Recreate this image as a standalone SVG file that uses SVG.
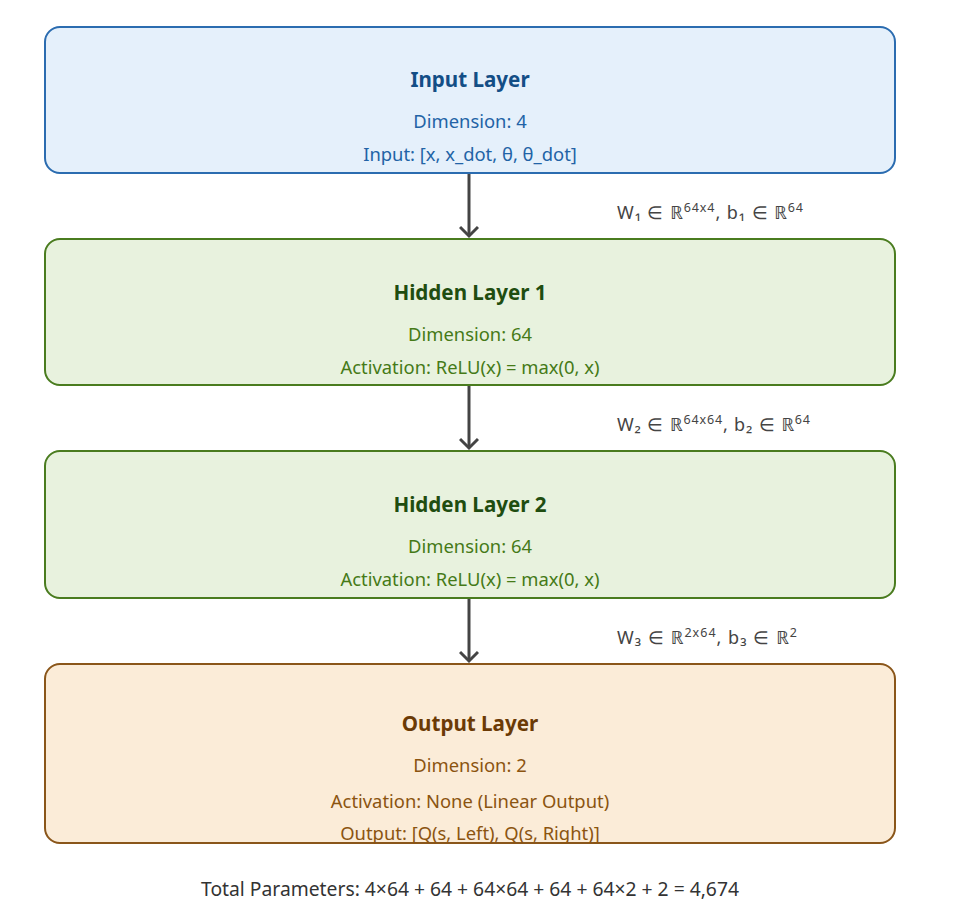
<svg xmlns="http://www.w3.org/2000/svg" width="974" height="908" viewBox="0 0 974 908">
<defs>
<style>
text{font-family:"Noto Sans","Open Sans","Liberation Sans",sans-serif;text-anchor:middle}
.t{font-size:20.6px;font-weight:bold}
.s{font-size:18.4px}
.box{stroke-width:2}
.in rect{fill:#e5f0fb;stroke:#2b6cb0}
.in .t{fill:#134e86}
.in .s{fill:#2263a6}
.hd rect{fill:#e8f2de;stroke:#4a7c1f}
.hd .t{fill:#1f4d10}
.hd .s{fill:#457a17}
.out rect{fill:#fbecd8;stroke:#8a561a}
.out .t{fill:#6b3a05}
.out .s{fill:#8b5410}
.lbl{font-size:18px;fill:#444;text-anchor:start}
.sup{font-size:12.5px}
.conn line{stroke:#444;stroke-width:3}
.foot{font-size:19.3px;fill:#333}
</style>
<marker id="ah" viewBox="0 0 20 20" refX="17" refY="10" markerWidth="20" markerHeight="20" markerUnits="userSpaceOnUse" orient="auto">
<path d="M8,1 L17,10 L8,19" fill="none" stroke="#444" stroke-width="3"/>
</marker>
</defs>
<rect width="974" height="908" fill="#ffffff"/>
<g id="input-layer" class="in">
<rect class="box" x="45" y="27" width="850" height="146" rx="15"/>
<text class="t" x="470" y="87">Input Layer</text>
<text class="s" x="470" y="128">Dimension: 4</text>
<text class="s" x="470" y="161">Input: [x, x_dot, θ, θ_dot]</text>
</g>
<g id="hidden-layer-1" class="hd">
<rect class="box" x="45" y="239" width="850" height="146" rx="15"/>
<text class="t" x="470" y="300">Hidden Layer 1</text>
<text class="s" x="470" y="341">Dimension: 64</text>
<text class="s" x="470" y="374">Activation: ReLU(x) = max(0, x)</text>
</g>
<g id="hidden-layer-2" class="hd">
<rect class="box" x="45" y="451" width="850" height="147" rx="15"/>
<text class="t" x="470" y="512">Hidden Layer 2</text>
<text class="s" x="470" y="553">Dimension: 64</text>
<text class="s" x="470" y="586">Activation: ReLU(x) = max(0, x)</text>
</g>
<g id="output-layer" class="out">
<rect class="box" x="45" y="664" width="850" height="179" rx="15"/>
<text class="t" x="470" y="731">Output Layer</text>
<text class="s" x="470" y="772">Dimension: 2</text>
<text class="s" x="470" y="808">Activation: None (Linear Output)</text>
<text class="s" x="470" y="840">Output: [Q(s, Left), Q(s, Right)]</text>
</g>
<g id="connectors" class="conn">
<line x1="469" y1="174" x2="469" y2="236" marker-end="url(#ah)"/>
<line x1="469" y1="386" x2="469" y2="448" marker-end="url(#ah)"/>
<line x1="469" y1="599" x2="469" y2="661" marker-end="url(#ah)"/>
</g>
<g id="connector-labels">
<text class="lbl" x="617" y="219" textLength="186" lengthAdjust="spacing">W₁ ∈ ℝ<tspan class="sup" dy="-7">64x4</tspan><tspan dy="7">, b₁ ∈ ℝ</tspan><tspan class="sup" dy="-7">64</tspan></text>
<text class="lbl" x="617" y="431" textLength="193" lengthAdjust="spacing">W₂ ∈ ℝ<tspan class="sup" dy="-7">64x64</tspan><tspan dy="7">, b₂ ∈ ℝ</tspan><tspan class="sup" dy="-7">64</tspan></text>
<text class="lbl" x="617" y="644" textLength="180" lengthAdjust="spacing">W₃ ∈ ℝ<tspan class="sup" dy="-7">2x64</tspan><tspan dy="7">, b₃ ∈ ℝ</tspan><tspan class="sup" dy="-7">2</tspan></text>
</g>
<g id="footer">
<text class="foot" x="470" y="896">Total Parameters: 4×64 + 64 + 64×64 + 64 + 64×2 + 2 = 4,674</text>
</g>
</svg>
